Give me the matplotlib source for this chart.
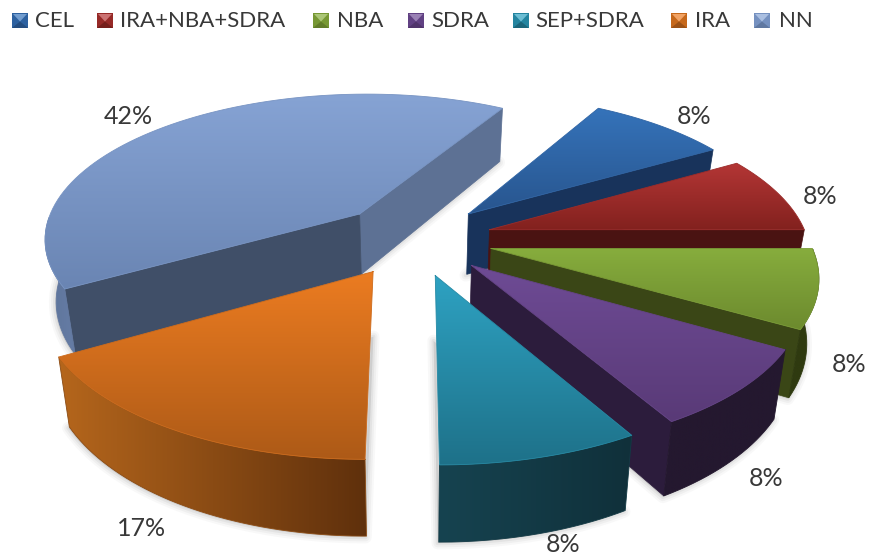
import numpy as np
import matplotlib
matplotlib.use('Agg')
import matplotlib.pyplot as plt
from matplotlib.colors import LinearSegmentedColormap, to_rgb
from matplotlib.patches import Polygon

# chart data
labels = ['CEL', 'IRA+NBA+SDRA', 'NBA', 'SDRA', 'SEP+SDRA', 'IRA', 'NN']
values = [1, 1, 1, 1, 1, 2, 5]
first_angle = 30

# colours per slice: top gradient, front wall, back wall, rim gradient (right to left)
top_hi = ['#3573ba', '#b43635', '#87ad3d', '#6e4b95', '#2ea2c2', '#ec7c21', '#86a3d4']
top_lo = ['#28558e', '#82211e', '#6c8a2e', '#593a77', '#1e7189', '#ad5a17', '#6a85b3']
wall_end = ['#18335b', '#4a1312', '#3a4616', '#2c1c3c', '#11303c', '#5f300c', '#5d7194']
wall_start = ['#18335b', '#4a1312', '#3a4616', '#2c1c3c', '#11303c', '#5f300c', '#404f68']
rim_a = ['#18335b', '#4a1312', '#2f3a10', '#24182f', '#10303a', '#5f300c', '#667da6']
rim_b = ['#18335b', '#4a1312', '#2f3a10', '#24182f', '#164350', '#b5661c', '#5d7399']

# layout, in pixels of the 869x555 picture
cx, cy = 414, 239
radius, explode = 318, 79
tilt, persp = 0.46, 2000
depth, converge = 62, 0.03
legend_box_x = [12, 97, 313, 408, 513, 671, 754]
legend_text_x = [35, 120, 337, 431, 535, 695, 779]
pct_pos = [(694, 117), (820, 196), (849, 364), (766, 479), (563, 544), (142, 529), (128, 116)]

plt.rcParams['font.family'] = ['Lato', 'DejaVu Sans']
fig = plt.figure(figsize=(8.69, 5.55), dpi=100)
ax = fig.add_axes([0, 0, 1, 1])
ax.set_xlim(0, 869)
ax.set_ylim(555, 0)
ax.axis('off')


def project(X, Y, z=0.0):
    p = persp / (persp - Y)
    x = cx + X * p * (1 - converge * z / depth)
    y = cy + tilt * Y * p + z * p
    return x, y


def mix(c0, c1, t):
    a, b = np.array(to_rgb(c0)), np.array(to_rgb(c1))
    return tuple(a + (b - a) * t)


def gradient_fill(xs, ys, c0, c1, zorder, horizontal=False):
    # gradient image clipped to the polygon
    poly = Polygon(np.column_stack([xs, ys]), closed=True, fc='none', ec='none', zorder=zorder)
    ax.add_patch(poly)
    cmap = LinearSegmentedColormap.from_list('g', [c0, c1])
    ramp = np.linspace(0, 1, 256)
    ramp = ramp.reshape(1, -1) if horizontal else ramp.reshape(-1, 1)
    im = ax.imshow(ramp, cmap=cmap, aspect='auto',
                   extent=(xs.min(), xs.max(), ys.max(), ys.min()), zorder=zorder)
    im.set_clip_path(poly)
    ax.plot(np.r_[xs, xs[0]], np.r_[ys, ys[0]], color=mix(c0, c1, 0.5), lw=0.6, zorder=zorder,
            solid_joinstyle='round')


total = sum(values)
angles = first_angle + np.cumsum([0] + values) / total * 360
slices = []
for i in range(len(values)):
    a0, a1 = np.radians(angles[i]), np.radians(angles[i + 1])
    mid = (a0 + a1) / 2
    slices.append((-np.cos(mid) * explode, i, a0, a1, mid))

# soft shadow under every slice
for _, i, a0, a1, mid in slices:
    tx, ty = explode * np.sin(mid), -explode * np.cos(mid)
    th = np.linspace(a0, a1, 60)
    bx, by = project(np.r_[tx, tx + radius * np.sin(th)], np.r_[ty, ty - radius * np.cos(th)], depth)
    for lw, al in [(9, 0.05), (6, 0.07), (3, 0.10)]:
        ax.fill(bx - 1, by + 1, fc='#808080', ec='#808080', lw=lw, alpha=al, zorder=1, joinstyle='round')

# back to front
for order, (_, i, a0, a1, mid) in enumerate(sorted(slices, key=lambda s: s[0])):
    base = 2 + order * 3
    tx, ty = explode * np.sin(mid), -explode * np.cos(mid)
    th = np.linspace(a0, a1, 80)
    ox, oy = tx + radius * np.sin(th), ty - radius * np.cos(th)

    # radial walls, only when they face the viewer
    if np.sin(a1) > 0.01:
        wx = np.array([tx, ox[-1]])
        wy = np.array([ty, oy[-1]])
        x0, y0 = project(wx, wy)
        x1, y1 = project(wx, wy, depth)
        ax.fill(np.r_[x0, x1[::-1]], np.r_[y0, y1[::-1]], fc=wall_end[i], ec=wall_end[i], lw=0.5, zorder=base)
    if -np.sin(a0) > 0.01:
        wx = np.array([tx, ox[0]])
        wy = np.array([ty, oy[0]])
        x0, y0 = project(wx, wy)
        x1, y1 = project(wx, wy, depth)
        ax.fill(np.r_[x0, x1[::-1]], np.r_[y0, y1[::-1]], fc=wall_start[i], ec=wall_start[i], lw=0.5, zorder=base)

    # outer rim on the near half, left colour to right colour
    near = -np.cos(th) > 0
    if near.sum() > 1:
        x0, y0 = project(ox[near], oy[near])
        x1, y1 = project(ox[near], oy[near], depth)
        gradient_fill(np.r_[x0, x1[::-1]], np.r_[y0, y1[::-1]], rim_b[i], rim_a[i], base + 1, horizontal=True)

    # top face
    px, py = project(np.r_[tx, ox], np.r_[ty, oy])
    gradient_fill(px, py, top_hi[i], top_lo[i], base + 2)

# percentage labels
for v, (x, y) in zip(values, pct_pos):
    ax.text(x, y, f'{round(100 * v / total)}%', ha='center', va='center', fontsize=18, color='#383838', zorder=50)

# legend with bevelled keys
for i, name in enumerate(labels):
    x0, x1 = legend_box_x[i], legend_box_x[i] + 16
    y0, y1 = 13, 28
    xc, yc = (x0 + x1) / 2, (y0 + y1) / 2 + 1
    ax.fill([x0, x1, x1, x0], [y0, y0, y1, y1], fc=mix(top_hi[i], top_lo[i], 0.6), zorder=40)
    ax.fill([x0 + 1, x1 - 1, xc], [y0 + 1, y0 + 1, yc], fc=mix(top_hi[i], '#ffffff', 0.3), zorder=41)
    ax.fill([x0, x1, xc], [y1, y1, yc], fc=mix(top_lo[i], '#000000', 0.1), zorder=41)
    ax.text(legend_text_x[i], 27, name, ha='left', va='baseline', fontsize=16, color='#383838', zorder=41)

ax.set_xlim(0, 869)
ax.set_ylim(555, 0)
fig.savefig('out.png', dpi=100)
